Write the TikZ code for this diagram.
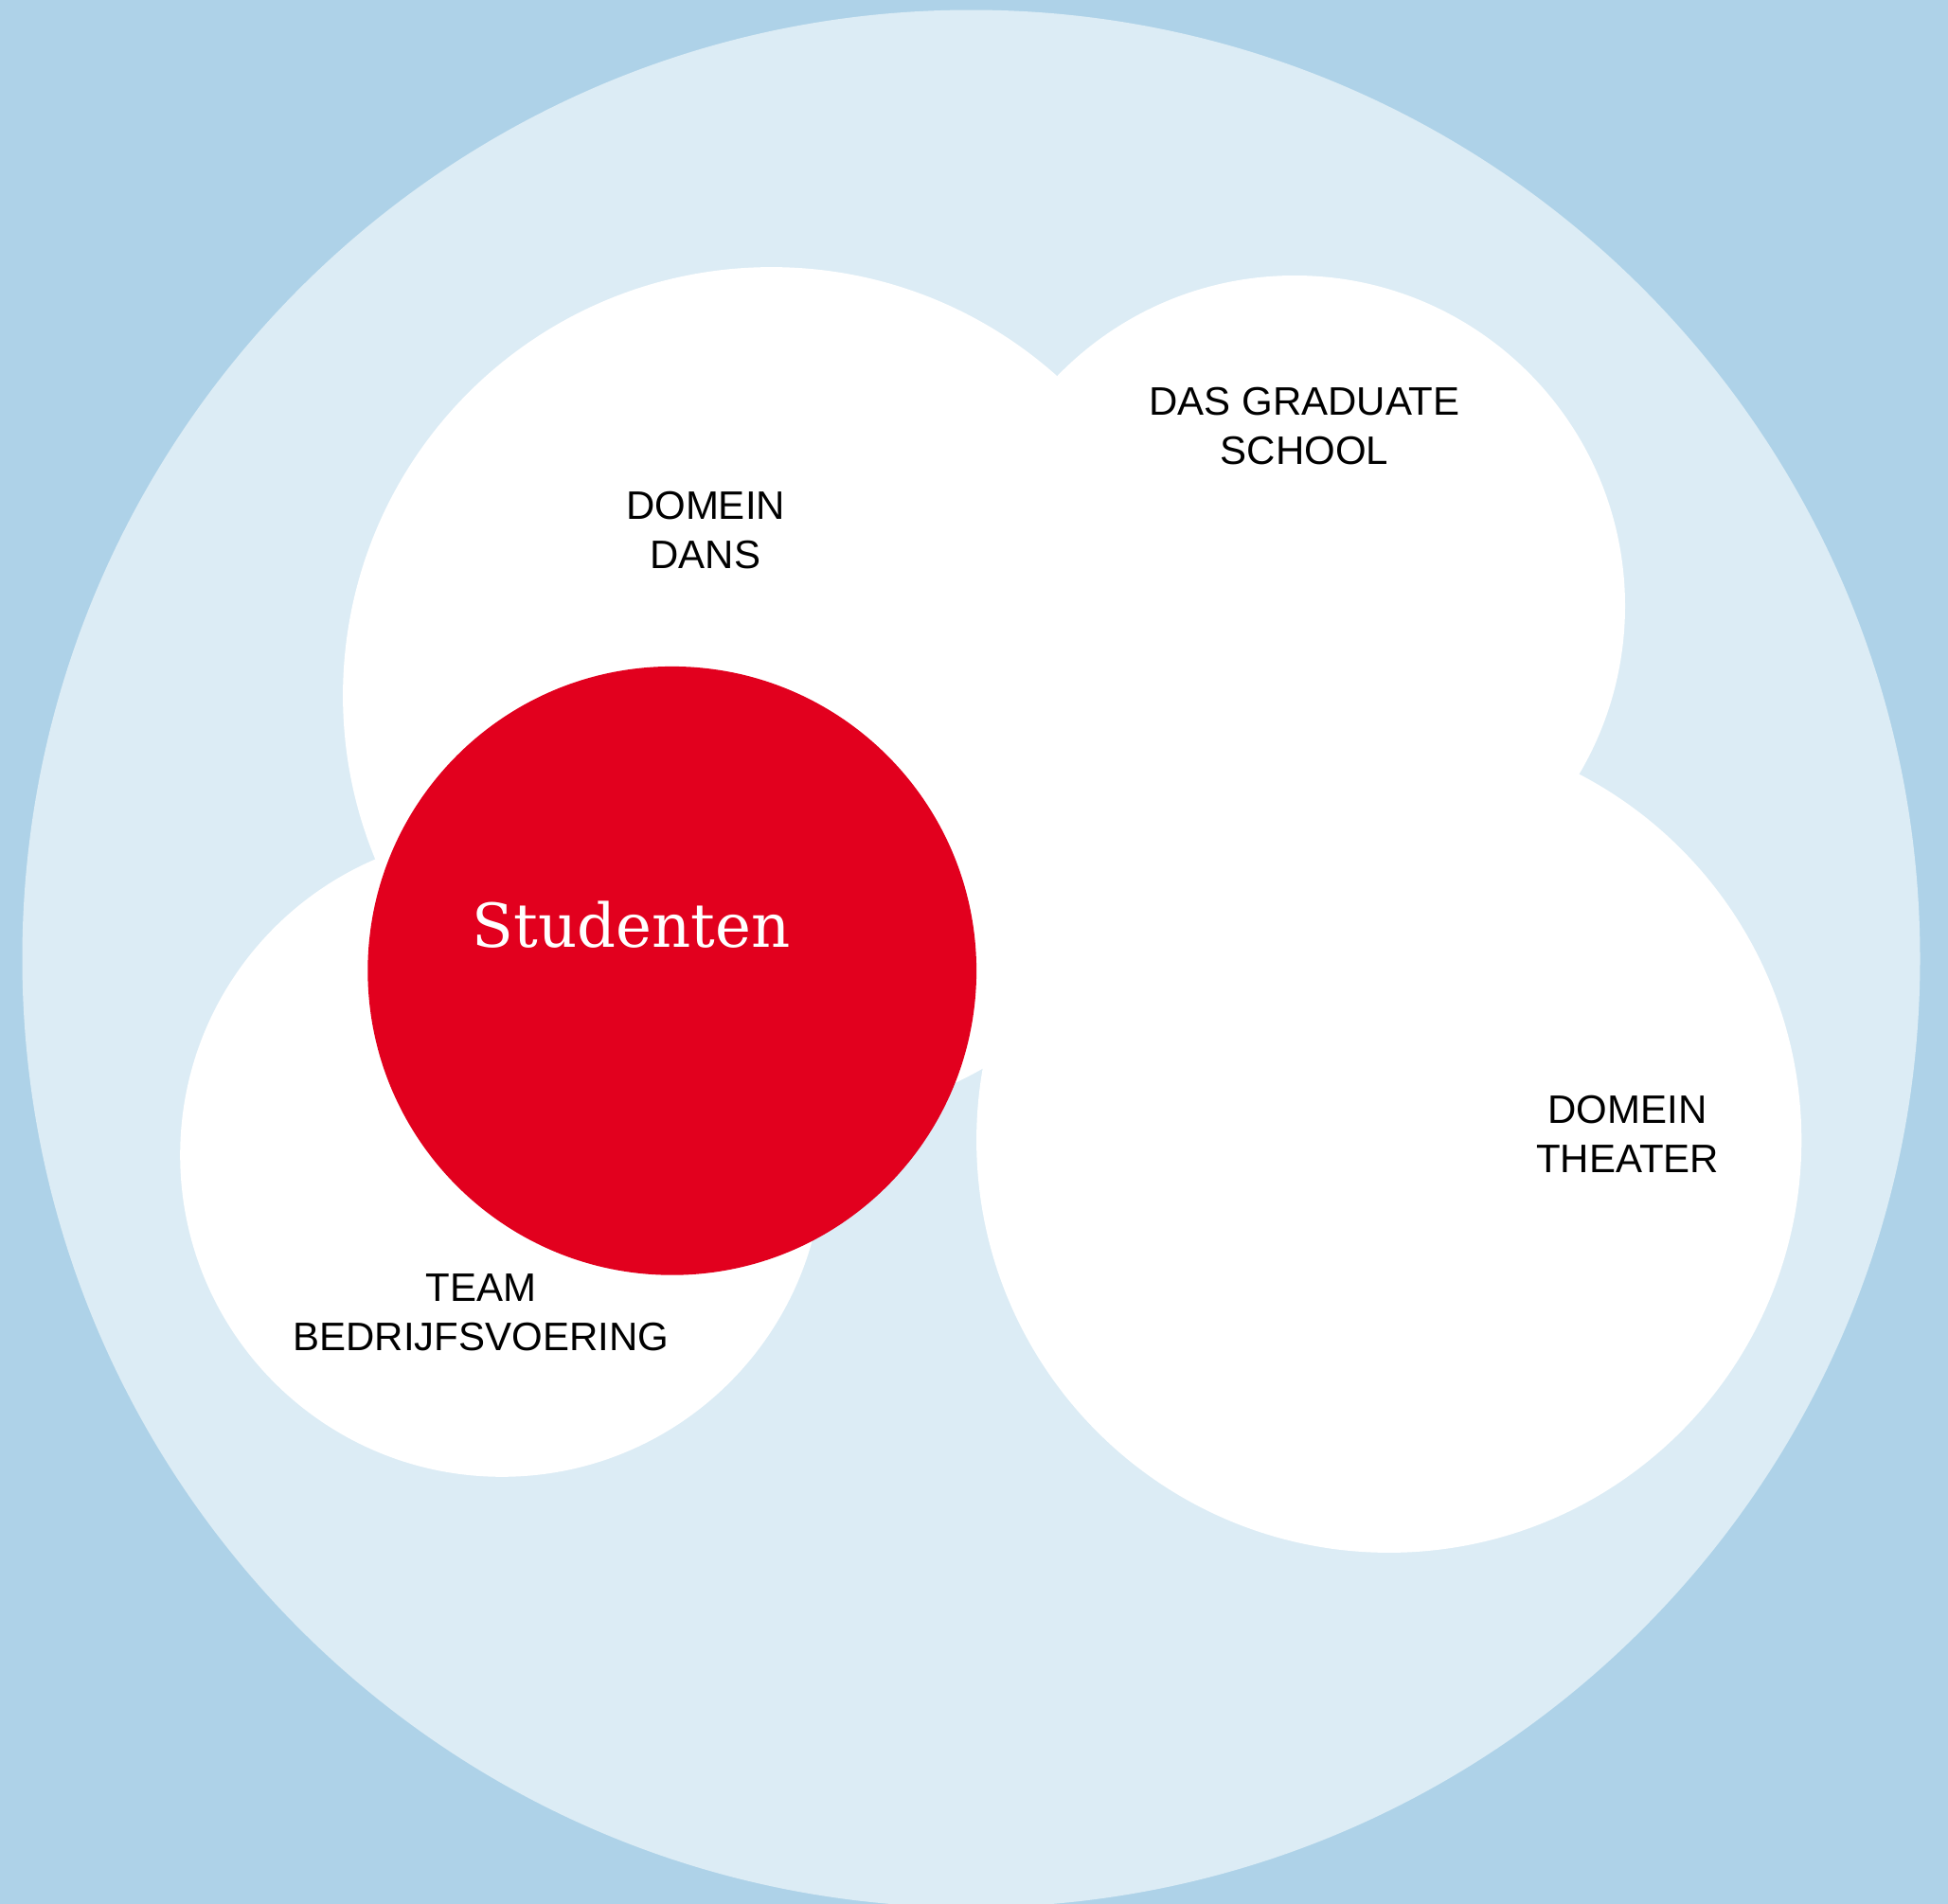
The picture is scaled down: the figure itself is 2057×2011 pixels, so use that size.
\documentclass[tikz,border=0pt]{standalone}
\usepackage{fontspec}
\setsansfont{Liberation Sans}
\newfontfamily\studfont{DejaVu Serif}
\definecolor{bgblue}{HTML}{AED2E8}
\definecolor{lightblue}{HTML}{DCECF5}
\definecolor{studred}{HTML}{E2001E}
\begin{document}
\begin{tikzpicture}[x=1pt,y=-1pt,
  blob/.style={circle,fill=white,draw=none,inner sep=0pt},
  lbl/.style={font=\sffamily\fontsize{42}{52}\selectfont,align=center,text=black,inner sep=0pt}]
\fill[bgblue] (0,0) rectangle (2057,2011);
\useasboundingbox (0,0) rectangle (2057,2011);
\fill[lightblue] (1025.5,1012.5) circle[radius=1002];
\node[blob,minimum size=905.2pt] (dans) at (814.7,734.7) {};
\node[blob,minimum size=698pt] (grad) at (1367,640) {};
\node[blob,minimum size=871.2pt] (theater) at (1466.7,1204.3) {};
\node[blob,minimum size=679.6pt] (team) at (530,1220) {};
\node[circle,fill=studred,inner sep=0pt,minimum size=642.8pt] (stud) at (709.7,1025.3) {};
\node[lbl] (tdans) at (745,560) {DOMEIN\\DANS};
\node[lbl] (tgrad) at (1377.5,450) {DAS GRADUATE\\SCHOOL};
\node[lbl] (ttheater) at (1718.6,1198) {DOMEIN\\THEATER};
\node[lbl] (tteam) at (507.7,1386) {TEAM\\BEDRIJFSVOERING};
\node[text=white,font=\studfont\fontsize{64}{70}\selectfont,inner sep=0pt] (tstud) at (666.5,977) {Studenten};
\end{tikzpicture}
\end{document}
